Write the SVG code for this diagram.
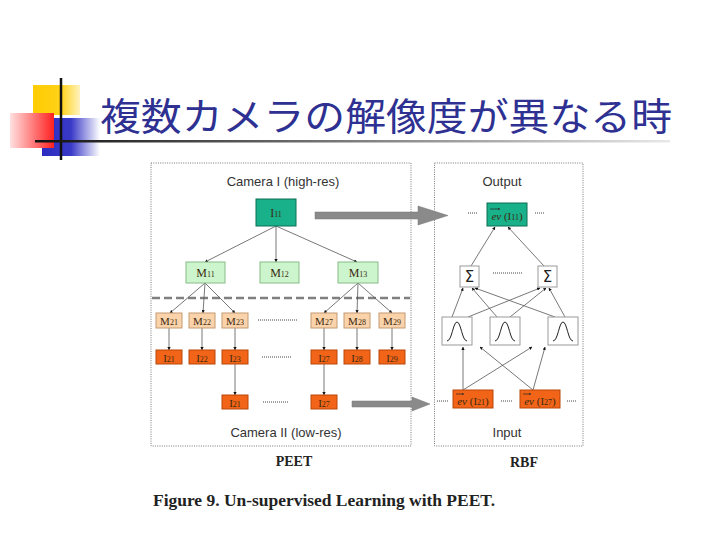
<svg xmlns="http://www.w3.org/2000/svg" width="720" height="540" viewBox="0 0 720 540">
<defs>
<linearGradient id="gY" x1="0" x2="1" y1="0" y2="0"><stop offset="0" stop-color="#ffcc00"/><stop offset="0.6" stop-color="#ffd21a"/><stop offset="1" stop-color="#fff3c0"/></linearGradient>
<linearGradient id="gR" x1="0" x2="1" y1="0" y2="0"><stop offset="0" stop-color="#ffe0e0"/><stop offset="1" stop-color="#ff2020"/></linearGradient>
<linearGradient id="gB" x1="0" x2="1" y1="0" y2="0"><stop offset="0" stop-color="#2b2bbf"/><stop offset="0.5" stop-color="#3a3ac8"/><stop offset="1" stop-color="#ffffff"/></linearGradient>
<linearGradient id="gL" x1="0" x2="1" y1="0" y2="0"><stop offset="0" stop-color="#111"/><stop offset="1" stop-color="#e8e8e8"/></linearGradient>
<marker id="ah" viewBox="0 0 10 10" refX="9" refY="5" markerWidth="4" markerHeight="4" orient="auto"><path d="M0,0 L10,5 L0,10 z" fill="#111"/></marker>
<marker id="ahs" viewBox="0 0 10 10" refX="9" refY="5" markerWidth="3.5" markerHeight="3.5" orient="auto"><path d="M0,0 L10,5 L0,10 z" fill="#333"/></marker>
</defs>
<style>
.panel{fill:none;stroke:#777;stroke-width:1;stroke-dasharray:1 1.3}
.teal{fill:#19b189;stroke:#0f6e55;stroke-width:1}
.lg{fill:#cdf5cd;stroke:#86bb86;stroke-width:1}
.lo{fill:#fbd3aa;stroke:#c39a72;stroke-width:1}
.or{fill:#f26418;stroke:#b9460a;stroke-width:1}
.wb{fill:#fff;stroke:#999;stroke-width:1}
.lbl{font-family:"Liberation Serif",serif;font-size:12px;fill:#3a2a10;text-anchor:middle}
.sm{font-size:11px}
.sub{font-size:8px}
.cam{font-family:"Liberation Sans",Arial,sans-serif;font-size:13px;fill:#333;text-anchor:middle}
.bold{font-family:"Liberation Serif",serif;font-weight:bold;font-size:14px;fill:#222;text-anchor:middle}
.con{stroke:#555;stroke-width:0.8;fill:none;marker-end:url(#ah)}
.dots{stroke:#444;stroke-width:1;stroke-dasharray:1 1}
.big{fill:#8a8a8a;stroke:#777;stroke-width:0.5}
</style>

<g id="title-decoration">
<rect x="33" y="85" width="47" height="30" fill="url(#gY)"/>
<rect x="42" y="118" width="58" height="38" fill="url(#gB)"/>
<rect x="10" y="113" width="44" height="35" fill="url(#gR)"/>
<line x1="61" y1="78" x2="61" y2="160" stroke="#111" stroke-width="2.5"/>
<rect x="35" y="140" width="635" height="2.5" fill="url(#gL)"/>
</g>
<g id="title"><text x="100" y="130" font-family="'Noto Sans CJK JP','Noto Sans CJK SC',sans-serif" font-size="38" fill="#2e3192" textLength="572" lengthAdjust="spacingAndGlyphs">複数カメラの解像度が異なる時</text></g>

<g id="panels">
<rect class="panel" x="151" y="163" width="260" height="283"/>
<rect class="panel" x="434.5" y="163" width="148.5" height="283"/>
<line x1="152" y1="298" x2="410" y2="298" stroke="#808080" stroke-width="2.5" stroke-dasharray="8 4"/>
</g>

<g id="labels">
<text class="cam" x="283" y="186">Camera I (high-res)</text>
<text class="cam" x="286" y="437">Camera II (low-res)</text>
<text class="cam" x="502" y="186">Output</text>
<text class="cam" x="507" y="437">Input</text>
<text class="bold" x="294" y="466">PEET</text>
<text class="bold" x="524" y="467">RBF</text>
<text x="153" y="506" font-family="'Liberation Serif',serif" font-weight="bold" font-size="16" fill="#222" textLength="342" lengthAdjust="spacingAndGlyphs">Figure 9. Un-supervised Learning with PEET.</text>
</g>

<g id="connectors">
<path class="con" d="M276,226 L205,262"/>
<path class="con" d="M276,226 L276,262"/>
<path class="con" d="M276,226 L357,262"/>
<path class="con" d="M205,283 L170,313"/>
<path class="con" d="M205,283 L203,313"/>
<path class="con" d="M205,283 L235,313"/>
<path class="con" d="M358,283 L324,313"/>
<path class="con" d="M358,283 L357,313"/>
<path class="con" d="M358,283 L392,313"/>
<path class="con" d="M169,328 L169,350"/>
<path class="con" d="M202,328 L202,350"/>
<path class="con" d="M235,328 L235,350"/>
<path class="con" d="M324,328 L324,350"/>
<path class="con" d="M357,328 L357,350"/>
<path class="con" d="M392,328 L392,350"/>
<path class="con" d="M235,364 L235,395"/>
<path class="con" d="M324,364 L324,395"/>
<line class="dots" x1="258" y1="320" x2="297" y2="320"/>
<line class="dots" x1="262" y1="357" x2="292" y2="357"/>
<line class="dots" x1="263" y1="402" x2="288" y2="402"/>
<polygon class="big" points="315,212 418,212 418,206 448,215.5 418,225 418,219 315,219"/>
<polygon class="big" points="352,401 412,401 412,397 430,404 412,411 412,407 352,407"/>
<path class="con" d="M471,266 L495,227"/>
<path class="con" d="M544,266 L508,227"/>
<path class="con" d="M452,317 L463,288"/>
<path class="con" d="M468,317 L540,288"/>
<path class="con" d="M497,317 L472,288"/>
<path class="con" d="M510,317 L546,288"/>
<path class="con" d="M555,317 L475,288"/>
<path class="con" d="M565,317 L549,288"/>
<path class="con" d="M463,390 L463,347"/>
<path class="con" d="M463,390 L532,347"/>
<path class="con" d="M533,390 L545,347"/>
<path class="con" d="M533,390 L480,347"/>
<line class="dots" x1="468" y1="213" x2="478" y2="213"/>
<line class="dots" x1="535" y1="213" x2="545" y2="213"/>
<line class="dots" x1="493" y1="273" x2="523" y2="273"/>
<line class="dots" x1="437" y1="401" x2="448" y2="401"/>
<line class="dots" x1="501" y1="401" x2="512" y2="401"/>
<line class="dots" x1="567" y1="401" x2="577" y2="401"/>
</g>

<g id="I11"><rect class="teal" x="256" y="199" width="40" height="27"/><text class="lbl" x="276" y="217">I<tspan class="sub">11</tspan></text></g>
<g id="M11"><rect class="lg" x="186" y="262" width="39" height="21"/><text class="lbl" x="205.5" y="277">M<tspan class="sub">11</tspan></text></g>
<g id="M12"><rect class="lg" x="260" y="262" width="39" height="21"/><text class="lbl" x="279.5" y="277">M<tspan class="sub">12</tspan></text></g>
<g id="M13"><rect class="lg" x="338" y="262" width="40" height="21"/><text class="lbl" x="358" y="277">M<tspan class="sub">13</tspan></text></g>

<g id="M21"><rect class="lo" x="156" y="313" width="26" height="15"/><text class="lbl sm" x="169" y="325">M<tspan class="sub">21</tspan></text></g>
<g id="M22"><rect class="lo" x="189" y="313" width="26" height="15"/><text class="lbl sm" x="202" y="325">M<tspan class="sub">22</tspan></text></g>
<g id="M23"><rect class="lo" x="222" y="313" width="26" height="15"/><text class="lbl sm" x="235" y="325">M<tspan class="sub">23</tspan></text></g>
<g id="M27"><rect class="lo" x="311" y="313" width="26" height="15"/><text class="lbl sm" x="324" y="325">M<tspan class="sub">27</tspan></text></g>
<g id="M28"><rect class="lo" x="344" y="313" width="26" height="15"/><text class="lbl sm" x="357" y="325">M<tspan class="sub">28</tspan></text></g>
<g id="M29"><rect class="lo" x="379" y="313" width="26" height="15"/><text class="lbl sm" x="392" y="325">M<tspan class="sub">29</tspan></text></g>

<g id="I21"><rect class="or" x="156" y="350" width="26" height="14"/><text class="lbl sm" x="169" y="361.5">I<tspan class="sub">21</tspan></text></g>
<g id="I22"><rect class="or" x="189" y="350" width="26" height="14"/><text class="lbl sm" x="202" y="361.5">I<tspan class="sub">22</tspan></text></g>
<g id="I23"><rect class="or" x="222" y="350" width="26" height="14"/><text class="lbl sm" x="235" y="361.5">I<tspan class="sub">23</tspan></text></g>
<g id="I27"><rect class="or" x="311" y="350" width="26" height="14"/><text class="lbl sm" x="324" y="361.5">I<tspan class="sub">27</tspan></text></g>
<g id="I28"><rect class="or" x="344" y="350" width="26" height="14"/><text class="lbl sm" x="357" y="361.5">I<tspan class="sub">28</tspan></text></g>
<g id="I29"><rect class="or" x="379" y="350" width="26" height="14"/><text class="lbl sm" x="392" y="361.5">I<tspan class="sub">29</tspan></text></g>
<g id="I21b"><rect class="or" x="222" y="395" width="26" height="14"/><text class="lbl sm" x="235" y="406.5">I<tspan class="sub">21</tspan></text></g>
<g id="I27b"><rect class="or" x="311" y="395" width="26" height="14"/><text class="lbl sm" x="324" y="406.5">I<tspan class="sub">27</tspan></text></g>

<g id="evI11"><rect class="teal" x="487" y="203" width="40" height="23"/><line x1="490" y1="209" x2="500" y2="209" stroke="#222" stroke-width="0.7" marker-end="url(#ahs)"/><text class="lbl sm" x="507" y="220"><tspan font-style="italic">ev</tspan> (I<tspan class="sub">11</tspan>)</text></g>
<g id="sigma1"><rect class="wb" x="460" y="266" width="19" height="21"/><text x="469.5" y="282" font-family="'DejaVu Sans',sans-serif" font-size="15" fill="#222" text-anchor="middle">Σ</text></g>
<g id="sigma2"><rect class="wb" x="538" y="266" width="19" height="21"/><text x="547.5" y="282" font-family="'DejaVu Sans',sans-serif" font-size="15" fill="#222" text-anchor="middle">Σ</text></g>
<g id="gauss1"><rect class="wb" x="442" y="317" width="30" height="28"/><path d="M447,341 C452,341 453,322 457,322 C461,322 462,341 467,341" fill="none" stroke="#222" stroke-width="1"/></g>
<g id="gauss2"><rect class="wb" x="490" y="317" width="30" height="28"/><path d="M495,341 C500,341 501,322 505,322 C509,322 510,341 515,341" fill="none" stroke="#222" stroke-width="1"/></g>
<g id="gauss3"><rect class="wb" x="548" y="317" width="30" height="28"/><path d="M553,341 C558,341 559,322 563,322 C567,322 568,341 573,341" fill="none" stroke="#222" stroke-width="1"/></g>
<g id="evI21"><rect class="or" x="453" y="390" width="40" height="18"/><line x1="456" y1="394" x2="464" y2="394" stroke="#222" stroke-width="0.7" marker-end="url(#ahs)"/><text class="lbl sm" x="473" y="405"><tspan font-style="italic">ev</tspan> (I<tspan class="sub">21</tspan>)</text></g>
<g id="evI27"><rect class="or" x="520" y="390" width="40" height="18"/><line x1="523" y1="394" x2="531" y2="394" stroke="#222" stroke-width="0.7" marker-end="url(#ahs)"/><text class="lbl sm" x="540" y="405"><tspan font-style="italic">ev</tspan> (I<tspan class="sub">27</tspan>)</text></g>
</svg>
